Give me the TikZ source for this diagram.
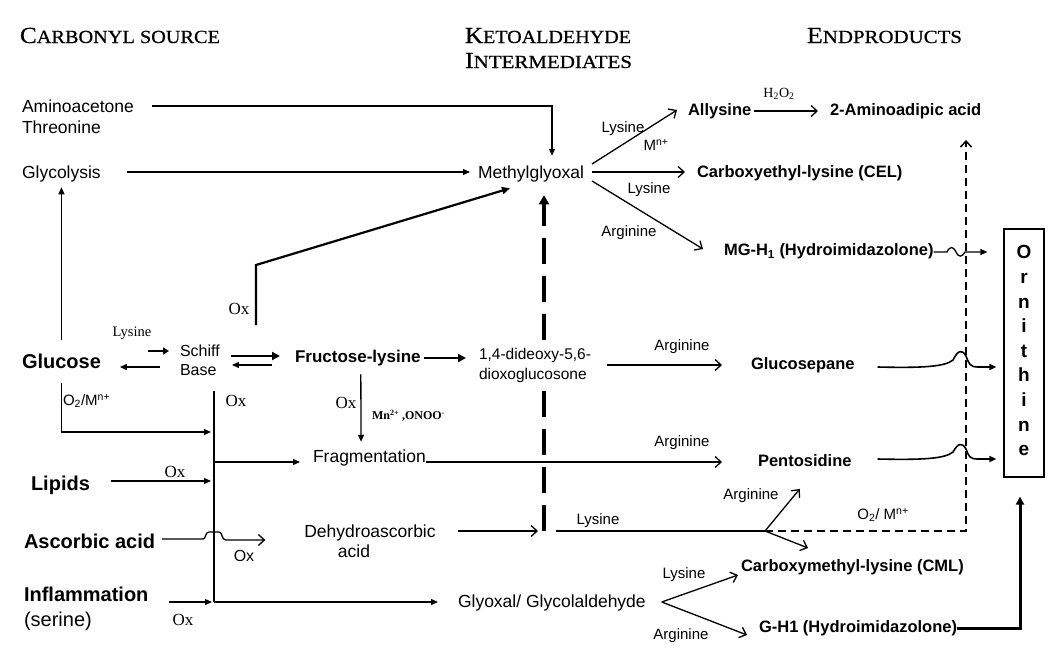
\documentclass[tikz,border=0pt]{standalone}
\usepackage{fontspec}
\usepackage{graphicx}
\setmainfont{Liberation Serif}
\newfontfamily\arial{Liberation Sans}
\newfontfamily\tnr{Liberation Serif}
\newfontfamily\hdrfont[FakeBold=0.6]{Liberation Serif}
\usetikzlibrary{arrows.meta}
\newcommand\fsz[1]{\fontsize{#1}{#1}\selectfont}
\newcommand\hsc[2]{{\fsz{23}#1}{\fsz{18.5}#2}}
\tikzset{
 tb/.style={inner sep=0pt, outer sep=0pt},
 src/.style={tb, anchor=west, font=\arial\bfseries\fsz{20}, text height=14.4pt, text depth=0pt},
 nrm/.style={tb, anchor=west, font=\arial\fsz{17.5}, text height=12.5pt, text depth=0pt},
 prod/.style={tb, anchor=west, font=\arial\bfseries\fsz{16.5}, text height=11.9pt, text depth=0pt},
 lab/.style={tb, font=\arial\fsz{15}, text height=10.8pt, text depth=0pt},
 oxl/.style={tb, font=\tnr\fsz{17}, text height=11.3pt, text depth=0pt},
 hdr/.style={tb, anchor=base west, font=\hdrfont},
 ln/.style={line width=1.3pt},
 fa/.style={ln, -{Triangle[length=7pt,width=6pt]}},
 oa/.style={ln, -{Straight Barb[length=6pt,width=11pt]}},
 bigdash/.style={line width=3.6pt, dash pattern=on 26pt off 12pt},
}
\begin{document}
\begin{tikzpicture}[x=1pt,y=-1pt]
\useasboundingbox (0,0) rectangle (1050,656);
% headers
\node[hdr] (hC) at (20,43) {\resizebox{200pt}{\height}{\hsc{C}{ARBONYL SOURCE}}};
\node[hdr] (hK1) at (465,43) {\resizebox{166pt}{\height}{\hsc{K}{ETOALDEHYDE}}};
\node[hdr] (hK2) at (465,68) {\resizebox{167pt}{\height}{\hsc{I}{NTERMEDIATES}}};
\node[hdr] (hE) at (807,43) {\resizebox{155pt}{\height}{\hsc{E}{NDPRODUCTS}}};
% left column
\node[nrm] (amino) at (22,106) {Aminoacetone};
\node[nrm] (threo) at (22,127) {Threonine};
\node[nrm] (glyco) at (22,172) {Glycolysis};
\node[src] (gluc) at (22,361) {Glucose};
\node[src] (lip) at (31,483) {Lipids};
\node[src] (asc) at (24,541) {Ascorbic acid};
\node[src] (inf) at (24,594) {Inflammation};
\node[src, font=\arial\fsz{20}] (ser) at (24,619) {(serine)};
% middle
\node[nrm] (mg) at (478,172) {Methylglyoxal};
\node[nrm, font=\arial\fsz{16}] (schiff) at (180,350) {Schiff};
\node[nrm, font=\arial\fsz{16}] (base) at (180,369) {Base};
\node[nrm, font=\arial\bfseries\fsz{17}] (fl) at (295,356) {Fructose-lysine};
\node[nrm, font=\arial\fsz{15.5}] (dd1) at (479,353) {1,4-dideoxy-5,6-};
\node[nrm, font=\arial\fsz{15.5}] (dd2) at (479,373) {dioxoglucosone};
\node[nrm] (frag) at (313,456) {Fragmentation};
\node[nrm, anchor=center] (dha1) at (370,531) {Dehydroascorbic};
\node[nrm, anchor=center] (dha2) at (354,551) {acid};
\node[nrm] (glyox) at (458,601) {Glyoxal/ Glycolaldehyde};
% right
\node[prod] (ally) at (688,110) {Allysine};
\node[prod] (aad) at (830,110) {2-Aminoadipic acid};
\node[prod] (cel) at (697,172) {Carboxyethyl-lysine (CEL)};
\node[prod] (mgh) at (724,250) {MG-H\textsubscript{1} (Hydroimidazolone)};
\node[prod] (gsp) at (751,364) {Glucosepane};
\node[prod] (pent) at (758,461) {Pentosidine};
\node[prod] (cml) at (741,566) {Carboxymethyl-lysine (CML)};
\node[prod] (gh1) at (759,627) {G-H1 (Hydroimidazolone)};
% ornithine
\node[draw, line width=1.2pt, minimum width=40pt, minimum height=248pt, inner sep=0pt] (orn) at (1024,353) {};
\foreach \c [count=\i from 0] in {O,r,n,i,t,h,i,n,e}
  \node[tb, anchor=base, font=\arial\bfseries\fsz{19}] (o\i) at (1024,258.8+24.6*\i) {\c};
% labels
\node[tb, font=\tnr\fsz{14.5}] (lysL) at (132,333) {Lysine};
\node[oxl] (ox1) at (239,309) {Ox};
\node[lab, anchor=west] (o2m) at (63,400) {O\textsubscript{2}/M\textsuperscript{n+}};
\node[oxl] (ox2) at (236,401) {Ox};
\node[oxl] (ox3) at (346,403) {Ox};
\node[tb, anchor=west, font=\tnr\bfseries\fsz{12}] (mno) at (372,416) {Mn\textsuperscript{2+} ,ONOO\textsuperscript{-}};
\node[oxl] (ox4) at (175,472) {Ox};
\node[lab, font=\arial\fsz{16}] (ox5) at (244,556) {Ox};
\node[oxl] (ox6) at (183,620) {Ox};
\node[lab] (a1) at (682,345) {Arginine};
\node[lab] (a2) at (682,441) {Arginine};
\node[lab] (a3) at (751,494) {Arginine};
\node[lab] (l1) at (598,519) {Lysine};
\node[lab] (o2b) at (883,514) {O\textsubscript{2}/ M\textsuperscript{n+}};
\node[lab] (l2) at (684,573) {Lysine};
\node[lab] (a4) at (681,634) {Arginine};
\node[lab] (l3) at (623,127) {Lysine};
\node[lab] (mn) at (656,145) {M\textsuperscript{n+}};
\node[lab] (l4) at (649,188) {Lysine};
\node[lab] (a5) at (629,231) {Arginine};
\node[tb, font=\tnr\fsz{14}] (h2o2) at (779,94) {H\textsubscript{2}O\textsubscript{2}};
% junctions
\coordinate (vtop) at (214,391);
\coordinate (jO2) at (214,432);
\coordinate (jFrag) at (214,462);
\coordinate (jLip) at (214,481);
\coordinate (jInf) at (214,602);
\coordinate (jDash) at (544,531);
\coordinate (jBr) at (765,531);
\coordinate (jUp) at (966,531);
% connectors left
\draw[fa] ([xshift=18pt]amino.east) -| ([xshift=21pt,yshift=10pt]mg.north);
\draw[fa] ([xshift=26pt]glyco.east) -- ([xshift=-8pt]mg.west);
\draw[fa] ([yshift=14pt]gluc.north) -- ([yshift=-9pt]gluc.north |- glyco.south);
\draw[line width=2.2pt, -{Triangle[length=8pt,width=7pt]}] ([xshift=6.6pt,yshift=-16pt]ox1.east) -- ++(0,-60) -- ([xshift=32pt,yshift=-10pt]mg.south west);
\draw[line width=2.6pt, -{Triangle[length=6pt,width=7pt]}] ([xshift=-32pt,yshift=-1pt]schiff.west) -- ([xshift=-11pt,yshift=-1pt]schiff.west);
\draw[fa] ([xshift=-20pt,yshift=2pt]base.west) -- ([xshift=19pt,yshift=-6pt]gluc.east);
\draw[line width=2.8pt, -{Triangle[length=8pt,width=8pt]}] ([xshift=11pt,yshift=-6pt]schiff.east) -- ([xshift=-15pt]fl.west);
\draw[fa] ([xshift=-23pt,yshift=-9pt]fl.west) -- ([xshift=15.5pt,yshift=4pt]base.east);
\draw[line width=2.8pt, -{Triangle[length=8pt,width=8pt]}] ([xshift=3pt,yshift=-2pt]fl.east) -- ([xshift=-13pt,yshift=-5pt]dd1.west);
\draw[oa] ([xshift=16pt,yshift=-12pt]dd1.east) -- ([xshift=-29pt,yshift=-1pt]gsp.west);
\draw[line width=1.7pt] (vtop) -- (jInf);
\draw[fa, shorten >=3pt] ([yshift=-15pt]gluc.south) |- (jO2);
\draw[fa] ([xshift=3pt,yshift=-12pt]fl.south) -- ([xshift=-8.4pt,yshift=8pt]frag.north);
\draw[fa] (jFrag) -- ([xshift=-13pt,yshift=-6pt]frag.west);
\draw[oa] ([yshift=-6pt]frag.east) -- ([xshift=-36pt,yshift=-1pt]pent.west);
\draw[fa, shorten >=3pt] ([xshift=21pt,yshift=2pt]lip.east) -- (jLip);
\draw[oa] ([xshift=7pt,yshift=2pt]asc.east) -- (203,539) .. controls (206,539) and (205,532) .. (209,532) -- (219,532) .. controls (223,532) and (221,540) .. (226,540) -- ([xshift=-39pt,yshift=-9pt]dha1.west);
\draw[oa] ([xshift=22pt]dha1.east) -- ([xshift=-6pt]jDash);
\draw[fa, shorten >=2pt] ([xshift=21pt,yshift=-8pt]inf.east) -- (jInf);
\draw[fa] (jInf) -- ([xshift=-20pt,yshift=-1pt]glyox.west);
% thick dashed up to methylglyoxal, interrupted by the dioxoglucosone label
\draw[bigdash] (jDash) -- ([yshift=-8pt]jDash |- dd2.south);
\draw[bigdash, -{Triangle[length=9pt,width=10pt]}] ([yshift=7pt]jDash |- dd1.north) -- ([xshift=13pt,yshift=-17pt]mg.south);
% lysine branch
\draw[ln] ([xshift=12pt]jDash) -- (jBr);
\draw[oa] (jBr) -- ([xshift=-5pt,yshift=-22pt]pent.south);
\draw[oa] (jBr) -- ([xshift=67pt,yshift=18pt]cml.west);
\draw[line width=1.5pt, dash pattern=on 8pt off 5pt, -{Straight Barb[length=6pt,width=11pt]}] (jBr) -- (jUp) -- ([yshift=-24pt]jUp |- aad.south);
% methylglyoxal products
\draw[oa] ([xshift=8pt,yshift=8pt]mg.east) -- ([xshift=-11pt]ally.west);
\draw[oa] ([xshift=8pt]mg.east) -- ([xshift=-12pt]cel.west);
\draw[oa] ([xshift=8pt,yshift=-9pt]mg.east) -- ([xshift=-21pt,yshift=1pt]mgh.west);
\draw[oa] ([xshift=3pt,yshift=-1pt]ally.east) -- ([xshift=-12pt,yshift=-1pt]aad.west);
% to ornithine
\draw[ln, -{Triangle[length=7pt,width=6pt]}] ([yshift=-2pt]mgh.east) -- (947,252) .. controls (950,246) and (953,246) .. (956,252) .. controls (959,258) and (962,257) .. (965,252) -- ([xshift=-16pt,yshift=-2pt]orn.west |- mgh.east);
\draw[line width=1.6pt, -{Triangle[length=7pt,width=6pt]}] ([xshift=23pt,yshift=-3pt]gsp.east) .. controls (920,368) and (945,367) .. (953,360) .. controls (958,350) and (962,349) .. (966,356) .. controls (969,364) and (970,367) .. (978,367) -- ([xshift=-7pt,yshift=-3pt]orn.west |- gsp.east);
\draw[line width=1.6pt, -{Triangle[length=7pt,width=6pt]}] ([xshift=26pt,yshift=2pt]pent.east) .. controls (920,460) and (945,459) .. (953,452) .. controls (958,443) and (962,442) .. (966,449) .. controls (969,457) and (970,459) .. (978,459) -- ([xshift=-7pt,yshift=2pt]orn.west |- pent.east);
% glyoxal branches
\draw[oa] ([xshift=16pt,yshift=-1pt]glyox.east) -- ([xshift=-3pt,yshift=-9pt]cml.west);
\draw[oa] ([xshift=16pt,yshift=-1pt]glyox.east) -- ([xshift=-12pt,yshift=-8pt]gh1.west);
\draw[line width=3pt, -{Triangle[length=8pt,width=8pt]}] ([yshift=-1pt]gh1.east) -| ([xshift=-4pt,yshift=-19pt]orn.south);
\end{tikzpicture}
\end{document}
